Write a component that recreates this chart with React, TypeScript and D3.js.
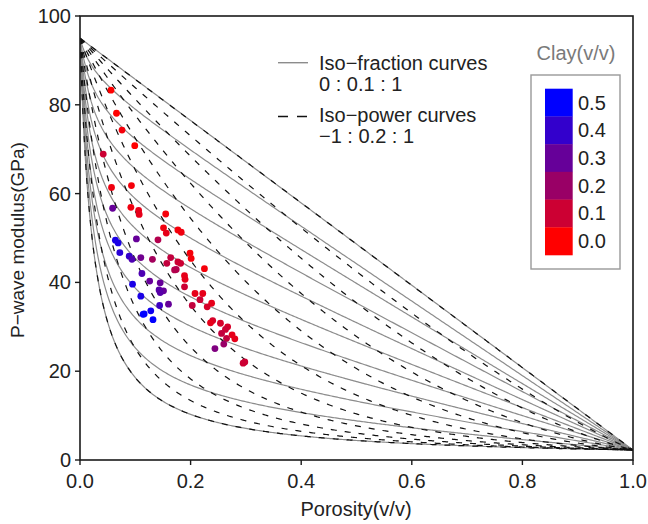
import React from "react";
import * as d3 from "d3";

// End-member moduli (GPa): mineral and fluid
const M_MINERAL = 95;
const M_FLUID = 2.25;

// Iso-fraction parameters 0 : 0.1 : 1 and iso-power parameters -1 : 0.2 : 1
const FRACTIONS = [0, 0.1, 0.2, 0.3, 0.4, 0.5, 0.6, 0.7, 0.8, 0.9, 1];
const POWERS = [-1, -0.8, -0.6, -0.4, -0.2, 0, 0.2, 0.4, 0.6, 0.8, 1];

// Porosity sample positions for drawing the model curves
const PHI_SAMPLES = d3.range(0, 1.0001, 0.0025);

// Measured samples
const porosity = [
  0.056, 0.066, 0.076, 0.099, 0.042, 0.057, 0.093, 0.059, 0.092, 0.106,
  0.107, 0.155, 0.151, 0.156, 0.177, 0.183, 0.102, 0.141, 0.064, 0.069,
  0.072, 0.089, 0.094, 0.110, 0.131, 0.164, 0.157, 0.177, 0.182, 0.199,
  0.201, 0.225, 0.174, 0.171, 0.112, 0.189, 0.190, 0.126, 0.145, 0.095,
  0.189, 0.143, 0.151, 0.145, 0.208, 0.222, 0.110, 0.217, 0.238, 0.230,
  0.203, 0.144, 0.160, 0.128, 0.116, 0.114, 0.132, 0.240, 0.236, 0.254,
  0.267, 0.263, 0.256, 0.275, 0.280, 0.265, 0.260, 0.244, 0.295, 0.298,
];
const modulus = [
  83.3, 78.1, 74.3, 70.8, 68.9, 61.4, 61.8, 56.7, 56.9, 56.2,
  55.3, 55.4, 52.3, 51.1, 51.8, 51.3, 49.8, 49.6, 49.5, 48.9,
  46.7, 45.9, 45.2, 45.6, 45.2, 45.6, 44.3, 44.6, 44.3, 46.6,
  45.4, 43.1, 42.9, 42.8, 42.0, 41.5, 40.7, 40.3, 39.9, 39.6,
  39.0, 38.3, 38.1, 37.7, 37.5, 37.5, 36.9, 36.1, 35.3, 34.5,
  34.8, 34.8, 35.1, 33.6, 32.9, 32.8, 31.6, 31.4, 30.9, 30.8,
  30.0, 29.4, 28.5, 28.2, 27.3, 27.4, 26.1, 25.1, 21.8, 22.1,
];
const clay = [
  0.0, 0.0, 0.02, 0.0, 0.1, 0.03, 0.02, 0.3, 0.03, 0.05,
  0.05, 0.02, 0.03, 0.05, 0.02, 0.03, 0.3, 0.15, 0.45, 0.45,
  0.42, 0.4, 0.35, 0.28, 0.18, 0.12, 0.12, 0.1, 0.1, 0.02,
  0.02, 0.02, 0.15, 0.15, 0.35, 0.05, 0.05, 0.3, 0.3, 0.45,
  0.1, 0.33, 0.3, 0.33, 0.05, 0.05, 0.45, 0.1, 0.05, 0.08,
  0.12, 0.38, 0.3, 0.47, 0.5, 0.5, 0.5, 0.08, 0.05, 0.08,
  0.08, 0.1, 0.12, 0.05, 0.05, 0.12, 0.2, 0.25, 0.1, 0.1,
];

const xTicks = [0, 0.2, 0.4, 0.6, 0.8, 1.0];
const yTicks = [0, 20, 40, 60, 80, 100];
const clayLevels = [0.5, 0.4, 0.3, 0.2, 0.1, 0.0];

const FONT = "'Liberation Sans', Arial, Helvetica, sans-serif";

function voigt(phi: number) {
  return (1 - phi) * M_MINERAL + phi * M_FLUID;
}
function reuss(phi: number) {
  return 1 / ((1 - phi) / M_MINERAL + phi / M_FLUID);
}
function powerMean(phi: number, p: number) {
  if (Math.abs(p) < 1e-9) return Math.pow(M_MINERAL, 1 - phi) * Math.pow(M_FLUID, phi);
  return Math.pow((1 - phi) * Math.pow(M_MINERAL, p) + phi * Math.pow(M_FLUID, p), 1 / p);
}

export default function App() {
  const W = 648, H = 524;
  const x = d3.scaleLinear().domain([0, 1]).range([80, 633]);
  const y = d3.scaleLinear().domain([0, 100]).range([460, 16]);
  const color = d3.scaleLinear<string>().domain([0, 0.5]).range(["#ff0000", "#0000ff"]).interpolate(d3.interpolateRgb);

  const line = d3.line<[number, number]>().x((d) => x(d[0])).y((d) => y(d[1]));

  const fracPaths = FRACTIONS.map((f) =>
    line(PHI_SAMPLES.map((p) => [p, f * voigt(p) + (1 - f) * reuss(p)] as [number, number]))
  );
  const powPaths = POWERS.map((pw) =>
    line(PHI_SAMPLES.map((p) => [p, powerMean(p, pw)] as [number, number]))
  );

  const textColor = "#222";
  const blockH = (255 - 88.7) / clayLevels.length;

  return (
    <svg width={W} height={H} style={{ position: "absolute", left: 0, top: 0, background: "#fff" }} fontFamily={FONT}>
      <defs>
        <clipPath id="plotclip">
          <rect x={80} y={16} width={553} height={444} />
        </clipPath>
      </defs>
      <g clipPath="url(#plotclip)">
        {fracPaths.map((d, i) => (
          <path key={"f" + i} d={d || ""} fill="none" stroke="#8c8c8c" strokeWidth={1.2} />
        ))}
        {powPaths.map((d, i) => (
          <path key={"p" + i} d={d || ""} fill="none" stroke="#111" strokeWidth={1.2} strokeDasharray="6,8" />
        ))}
      </g>

      {porosity.map((p, i) => (
        <circle key={"c" + i} cx={x(p)} cy={y(modulus[i])} r={3.4} fill={color(clay[i])} />
      ))}

      {/* frame */}
      <rect x={80} y={16} width={553} height={444} fill="none" stroke="#1a1a1a" strokeWidth={1.6} />

      {/* x axis ticks */}
      {xTicks.map((t) => (
        <g key={"xt" + t}>
          <line x1={x(t)} x2={x(t)} y1={460} y2={465} stroke="#1a1a1a" strokeWidth={1.4} />
          <text x={x(t)} y={488} textAnchor="middle" fontSize={20} fill={textColor}>
            {t.toFixed(1)}
          </text>
        </g>
      ))}
      {/* y axis ticks */}
      {yTicks.map((t) => (
        <g key={"yt" + t}>
          <line x1={75} x2={80} y1={y(t)} y2={y(t)} stroke="#1a1a1a" strokeWidth={1.4} />
          <text x={71} y={y(t) + 7} textAnchor="end" fontSize={20} fill={textColor}>
            {t}
          </text>
        </g>
      ))}

      <text x={356} y={516} textAnchor="middle" fontSize={20} fill={textColor}>
        Porosity(v/v)
      </text>
      <text transform="translate(24,240) rotate(-90)" textAnchor="middle" fontSize={19} fill={textColor}>
        P−wave modulus(GPa)
      </text>

      {/* curve legend */}
      <line x1={278} x2={308} y1={62.7} y2={62.7} stroke="#8c8c8c" strokeWidth={1.4} />
      <text x={319} y={69.5} fontSize={20} fill={textColor}>Iso−fraction curves</text>
      <text x={319} y={90.7} fontSize={20} fill={textColor}>0 : 0.1 : 1</text>
      <line x1={278} x2={308} y1={116.5} y2={116.5} stroke="#111" strokeWidth={1.6} strokeDasharray="10,9" />
      <text x={319} y={121.7} fontSize={20} fill={textColor}>Iso−power curves</text>
      <text x={319} y={143.3} fontSize={20} fill={textColor}>−1 : 0.2 : 1</text>

      {/* clay legend */}
      <text x={576} y={60} textAnchor="middle" fontSize={20} fill="#7a7a7a">Clay(v/v)</text>
      <rect x={531} y={75} width={89} height={194} fill="#fff" stroke="#999" strokeWidth={1.4} />
      {clayLevels.map((c, i) => (
        <g key={"cl" + c}>
          <rect x={545} y={88.7 + i * blockH} width={27.7} height={blockH + 0.3} fill={color(c)} />
          <text x={578} y={88.7 + i * blockH + blockH / 2 + 7} fontSize={20} fill={textColor}>
            {c.toFixed(1)}
          </text>
        </g>
      ))}
    </svg>
  );
}
